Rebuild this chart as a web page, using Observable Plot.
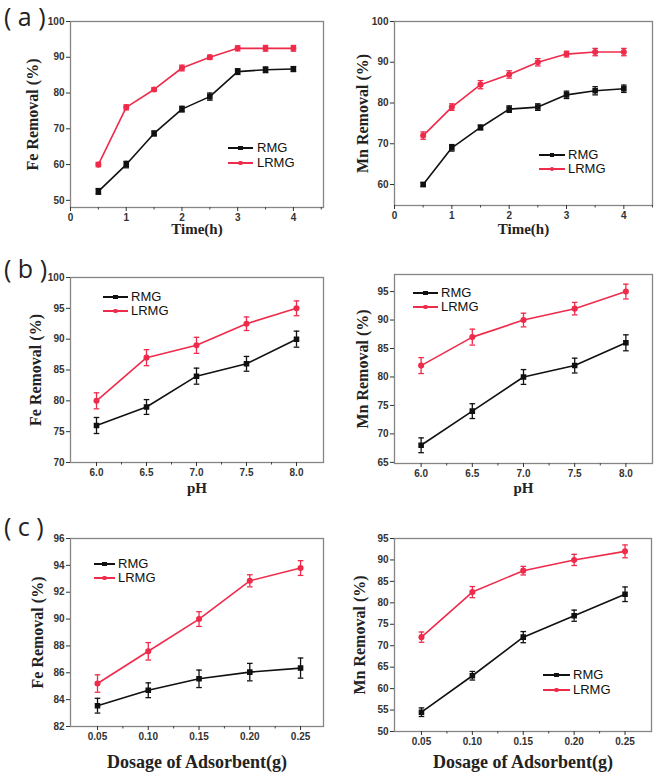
<!DOCTYPE html>
<html><head><meta charset="utf-8">
<script src="https://cdn.jsdelivr.net/npm/d3@7"></script>
<script src="https://cdn.jsdelivr.net/npm/@observablehq/plot@0.6"></script>
<style>
body{margin:0;background:#fff;}
#fig{position:relative;width:661px;height:780px;overflow:hidden;background:#fff;}
.pan{position:absolute;}
.plabel{position:absolute;font-family:"Open Sans","DejaVu Sans",sans-serif;font-size:25px;color:#222;white-space:pre;line-height:1;}
.leg{position:absolute;font-family:"Liberation Sans",Arial,sans-serif;font-size:13px;color:#111;line-height:1;}
</style></head><body><div id="fig"></div>
<script>
// ---------- data ----------
const seriesNames = ["RMG", "LRMG"];
const seriesColors = ["#111111", "#ef2b4b"];

const timeX = [0.5, 1, 1.5, 2, 2.5, 3, 3.5, 4];
const feTimeRMG = [52.5, 60, 68.7, 75.5, 79, 86, 86.5, 86.7];
const feTimeRMGErr = [0.8, 0.9, 0.7, 0.8, 1.0, 0.8, 0.8, 0.7];
const feTimeLRMG = [60, 76, 81, 87, 90, 92.5, 92.5, 92.5];
const feTimeLRMGErr = [0.6, 0.7, 0.5, 0.8, 0.6, 0.7, 0.8, 0.8];
const mnTimeRMG = [60, 69, 74, 78.5, 79, 82, 83, 83.5];
const mnTimeRMGErr = [0.5, 0.8, 0.6, 0.8, 0.8, 0.9, 1.0, 0.9];
const mnTimeLRMG = [72, 79, 84.5, 87, 90, 92, 92.5, 92.5];
const mnTimeLRMGErr = [0.9, 0.8, 1.0, 0.9, 0.9, 0.7, 0.9, 0.9];

const phX = [6.0, 6.5, 7.0, 7.5, 8.0];
const fePhRMG = [76, 79, 84, 86, 90];
const fePhRMGErr = [1.3, 1.2, 1.3, 1.2, 1.3];
const fePhLRMG = [80, 87, 89, 92.5, 95];
const fePhLRMGErr = [1.3, 1.3, 1.3, 1.1, 1.2];
const mnPhRMG = [68, 74, 80, 82, 86];
const mnPhRMGErr = [1.3, 1.3, 1.3, 1.3, 1.4];
const mnPhLRMG = [82, 87, 90, 92, 95];
const mnPhLRMGErr = [1.4, 1.4, 1.2, 1.1, 1.3];

const doseX = [0.05, 0.10, 0.15, 0.20, 0.25];
const feDoseRMG = [83.55, 84.7, 85.55, 86.05, 86.35];
const feDoseRMGErr = [0.55, 0.55, 0.65, 0.65, 0.75];
const feDoseLRMG = [85.2, 87.6, 90.0, 92.85, 93.8];
const feDoseLRMGErr = [0.65, 0.65, 0.55, 0.45, 0.55];
const mnDoseRMG = [54.5, 63, 72, 77, 82];
const mnDoseRMGErr = [1.0, 1.0, 1.3, 1.3, 1.7];
const mnDoseLRMG = [72, 82.5, 87.5, 90, 92];
const mnDoseLRMGErr = [1.2, 1.3, 1.0, 1.3, 1.5];

const timeTicks = [0, 1, 2, 3, 4];
const timeMinor = [0.5, 1.5, 2.5, 3.5, 4.5];
const phTicks = [6.0, 6.5, 7.0, 7.5, 8.0];
const phMinor = [6.25, 6.75, 7.25, 7.75];
const doseTicks = [0.05, 0.10, 0.15, 0.20, 0.25];
const doseMinor = [0.075, 0.125, 0.175, 0.225];

// ---------- helpers ----------
const fig = document.getElementById("fig");
const cap = {draw(ctx, size) { const w = Math.sqrt(size / Math.PI); ctx.moveTo(-w, 0); ctx.lineTo(w, 0); }};
const markerSymbols = ["square", "circle"];

function rows(xs, ys, es) { return xs.map((x, i) => ({x, y: ys[i], lo: ys[i] - es[i], hi: ys[i] + es[i]})); }

function panel(p) {
  const marks = [];
  marks.push(Plot.frame({stroke: "#858585", strokeWidth: 1.3}));
  marks.push(Plot.axisY({ticks: p.yTicks, tickSize: 4, tickPadding: 2, color: "#333", fontSize: 10, fontWeight: "bold", label: null, tickFormat: d => String(d)}));
  marks.push(Plot.axisX({ticks: p.xTicks, tickSize: 4, tickPadding: 2, color: "#333", fontSize: 10, fontWeight: "bold", label: null, tickFormat: p.xFormat}));
  marks.push(Plot.axisX({ticks: p.xMinor, tickSize: 2.5, color: "#444", label: null, tickFormat: () => ""}));
  p.series.forEach((s, k) => {
    const d = rows(p.xs, s.y, s.e);
    const c = seriesColors[k];
    marks.push(Plot.line(d, {x: "x", y: "y", stroke: c, strokeWidth: 1.6}));
    marks.push(Plot.ruleX(d, {x: "x", y1: "lo", y2: "hi", stroke: c, strokeWidth: 1.3}));
    marks.push(Plot.dot(d, {x: "x", y: "lo", symbol: cap, r: 2.8, stroke: c, fill: "none", strokeWidth: 1.3}));
    marks.push(Plot.dot(d, {x: "x", y: "hi", symbol: cap, r: 2.8, stroke: c, fill: "none", strokeWidth: 1.3}));
    marks.push(Plot.dot(d, {x: "x", y: "y", symbol: markerSymbols[k], r: 2.3, fill: c, stroke: c}));
  });
  marks.push(Plot.text([p.yLabel], {frameAnchor: "left", textAnchor: "middle", lineAnchor: "middle", rotate: -90, dx: p.yDx, fontWeight: "bold", fontFamily: "Liberation Serif", fontSize: 16, fill: "#222"}));
  marks.push(Plot.text([p.xLabel], {frameAnchor: "bottom", textAnchor: "middle", lineAnchor: "middle", dy: p.xDy, fontWeight: "bold", fontFamily: "Liberation Serif", fontSize: p.xSize || 15, fill: "#222"}));
  const chart = Plot.plot({
    width: p.width, height: p.height,
    marginLeft: p.m[0], marginRight: p.m[1], marginTop: p.m[2], marginBottom: p.m[3],
    x: {domain: p.xDomain, axis: null},
    y: {domain: p.yDomain, axis: null},
    style: {fontFamily: "Liberation Sans, Arial, sans-serif", fontSize: "10px", background: "transparent", overflow: "visible"},
    marks
  });
  const div = document.createElement("div");
  div.className = "pan";
  div.style.left = p.left + "px"; div.style.top = p.top + "px";
  div.appendChild(chart);
  fig.appendChild(div);
}

function legend(x1, x2, yTop, gap, textX) {
  seriesNames.forEach((name, k) => {
    const y = yTop + k * gap;
    const c = seriesColors[k];
    const line = document.createElement("div");
    line.style.cssText = `position:absolute;left:${x1}px;top:${y - 0.8}px;width:${x2 - x1}px;height:1.6px;background:${c};`;
    fig.appendChild(line);
    const m = document.createElement("div");
    const r = k === 0 ? "0" : "50%";
    m.style.cssText = `position:absolute;left:${(x1 + x2) / 2 - 2.4}px;top:${y - 2.4}px;width:4.8px;height:4.8px;background:${c};border-radius:${r};`;
    fig.appendChild(m);
    const t = document.createElement("div");
    t.className = "leg";
    t.textContent = name;
    t.style.left = textX + "px"; t.style.top = (y - 7) + "px";
    fig.appendChild(t);
  });
}

function panelLabel(text, x, y) {
  const d = document.createElement("div");
  d.className = "plabel"; d.textContent = text;
  d.style.left = x + "px"; d.style.top = y + "px";
  fig.appendChild(d);
}

const fmt1 = d => d.toFixed(1);
const fmt2 = d => d.toFixed(2);

// ---------- row (a) ----------
panel({left: 0, top: 0, width: 330, height: 240, m: [70, 7, 21, 33],
  xDomain: [0, 4.54], yDomain: [48, 100], xTicks: timeTicks, xMinor: timeMinor, xFormat: d => String(d),
  yTicks: [50, 60, 70, 80, 90, 100], xs: timeX,
  series: [{y: feTimeRMG, e: feTimeRMGErr}, {y: feTimeLRMG, e: feTimeLRMGErr}],
  yLabel: "Fe Removal (%)", xLabel: "Time(h)", yDx: -38, xDy: 22});
panel({left: 330, top: 0, width: 331, height: 240, m: [64, 9, 21, 35],
  xDomain: [0, 4.5], yDomain: [54.85, 100], xTicks: timeTicks, xMinor: timeMinor, xFormat: d => String(d),
  yTicks: [60, 70, 80, 90, 100], xs: timeX,
  series: [{y: mnTimeRMG, e: mnTimeRMGErr}, {y: mnTimeLRMG, e: mnTimeLRMGErr}],
  yLabel: "Mn Removal (%)", xLabel: "Time(h)", yDx: -32, xDy: 24});

// ---------- row (b) ----------
panel({left: 0, top: 250, width: 330, height: 250, m: [70, 7, 27, 38],
  xDomain: [5.74, 8.27], yDomain: [70, 100], xTicks: phTicks, xMinor: phMinor, xFormat: fmt1,
  yTicks: [70, 75, 80, 85, 90, 95, 100], xs: phX,
  series: [{y: fePhRMG, e: fePhRMGErr}, {y: fePhLRMG, e: fePhLRMGErr}],
  yLabel: "Fe Removal (%)", xLabel: "pH", yDx: -35, xDy: 26});
panel({left: 330, top: 250, width: 331, height: 250, m: [64, 9, 24, 37],
  xDomain: [5.74, 8.26], yDomain: [64.8, 98], xTicks: phTicks, xMinor: phMinor, xFormat: fmt1,
  yTicks: [65, 70, 75, 80, 85, 90, 95], xs: phX,
  series: [{y: mnPhRMG, e: mnPhRMGErr}, {y: mnPhLRMG, e: mnPhLRMGErr}],
  yLabel: "Mn Removal (%)", xLabel: "pH", yDx: -32, xDy: 25});

// ---------- row (c) ----------
panel({left: 0, top: 505, width: 330, height: 275, m: [70, 7, 33, 54],
  xDomain: [0.0234, 0.2726], yDomain: [82, 96], xTicks: doseTicks, xMinor: doseMinor, xFormat: fmt2,
  yTicks: [82, 84, 86, 88, 90, 92, 94, 96], xs: doseX,
  series: [{y: feDoseRMG, e: feDoseRMGErr}, {y: feDoseLRMG, e: feDoseLRMGErr}],
  yLabel: "Fe Removal (%)", xLabel: "Dosage of Adsorbent(g)", xSize: 18, yDx: -33, xDy: 36});
panel({left: 330, top: 505, width: 331, height: 275, m: [64, 10, 33, 49],
  xDomain: [0.0235, 0.276], yDomain: [50, 95], xTicks: doseTicks, xMinor: doseMinor, xFormat: fmt2,
  yTicks: [50, 55, 60, 65, 70, 75, 80, 85, 90, 95], xs: doseX,
  series: [{y: mnDoseRMG, e: mnDoseRMGErr}, {y: mnDoseLRMG, e: mnDoseLRMGErr}],
  yLabel: "Mn Removal (%)", xLabel: "Dosage of Adsorbent(g)", xSize: 18, yDx: -35, xDy: 31});

// ---------- legends & labels ----------
legend(228, 253, 148, 15, 257);
legend(539, 565, 155, 14, 568);
legend(103, 128, 297, 14, 131);
legend(413, 438, 293, 14, 441);
legend(94, 115, 564, 14, 118);
legend(543, 570, 675, 15, 573);

panelLabel("( a )", 4, 4);
panelLabel("( b )", 4, 256);
panelLabel("( c )", 4, 514);
</script></body></html>
